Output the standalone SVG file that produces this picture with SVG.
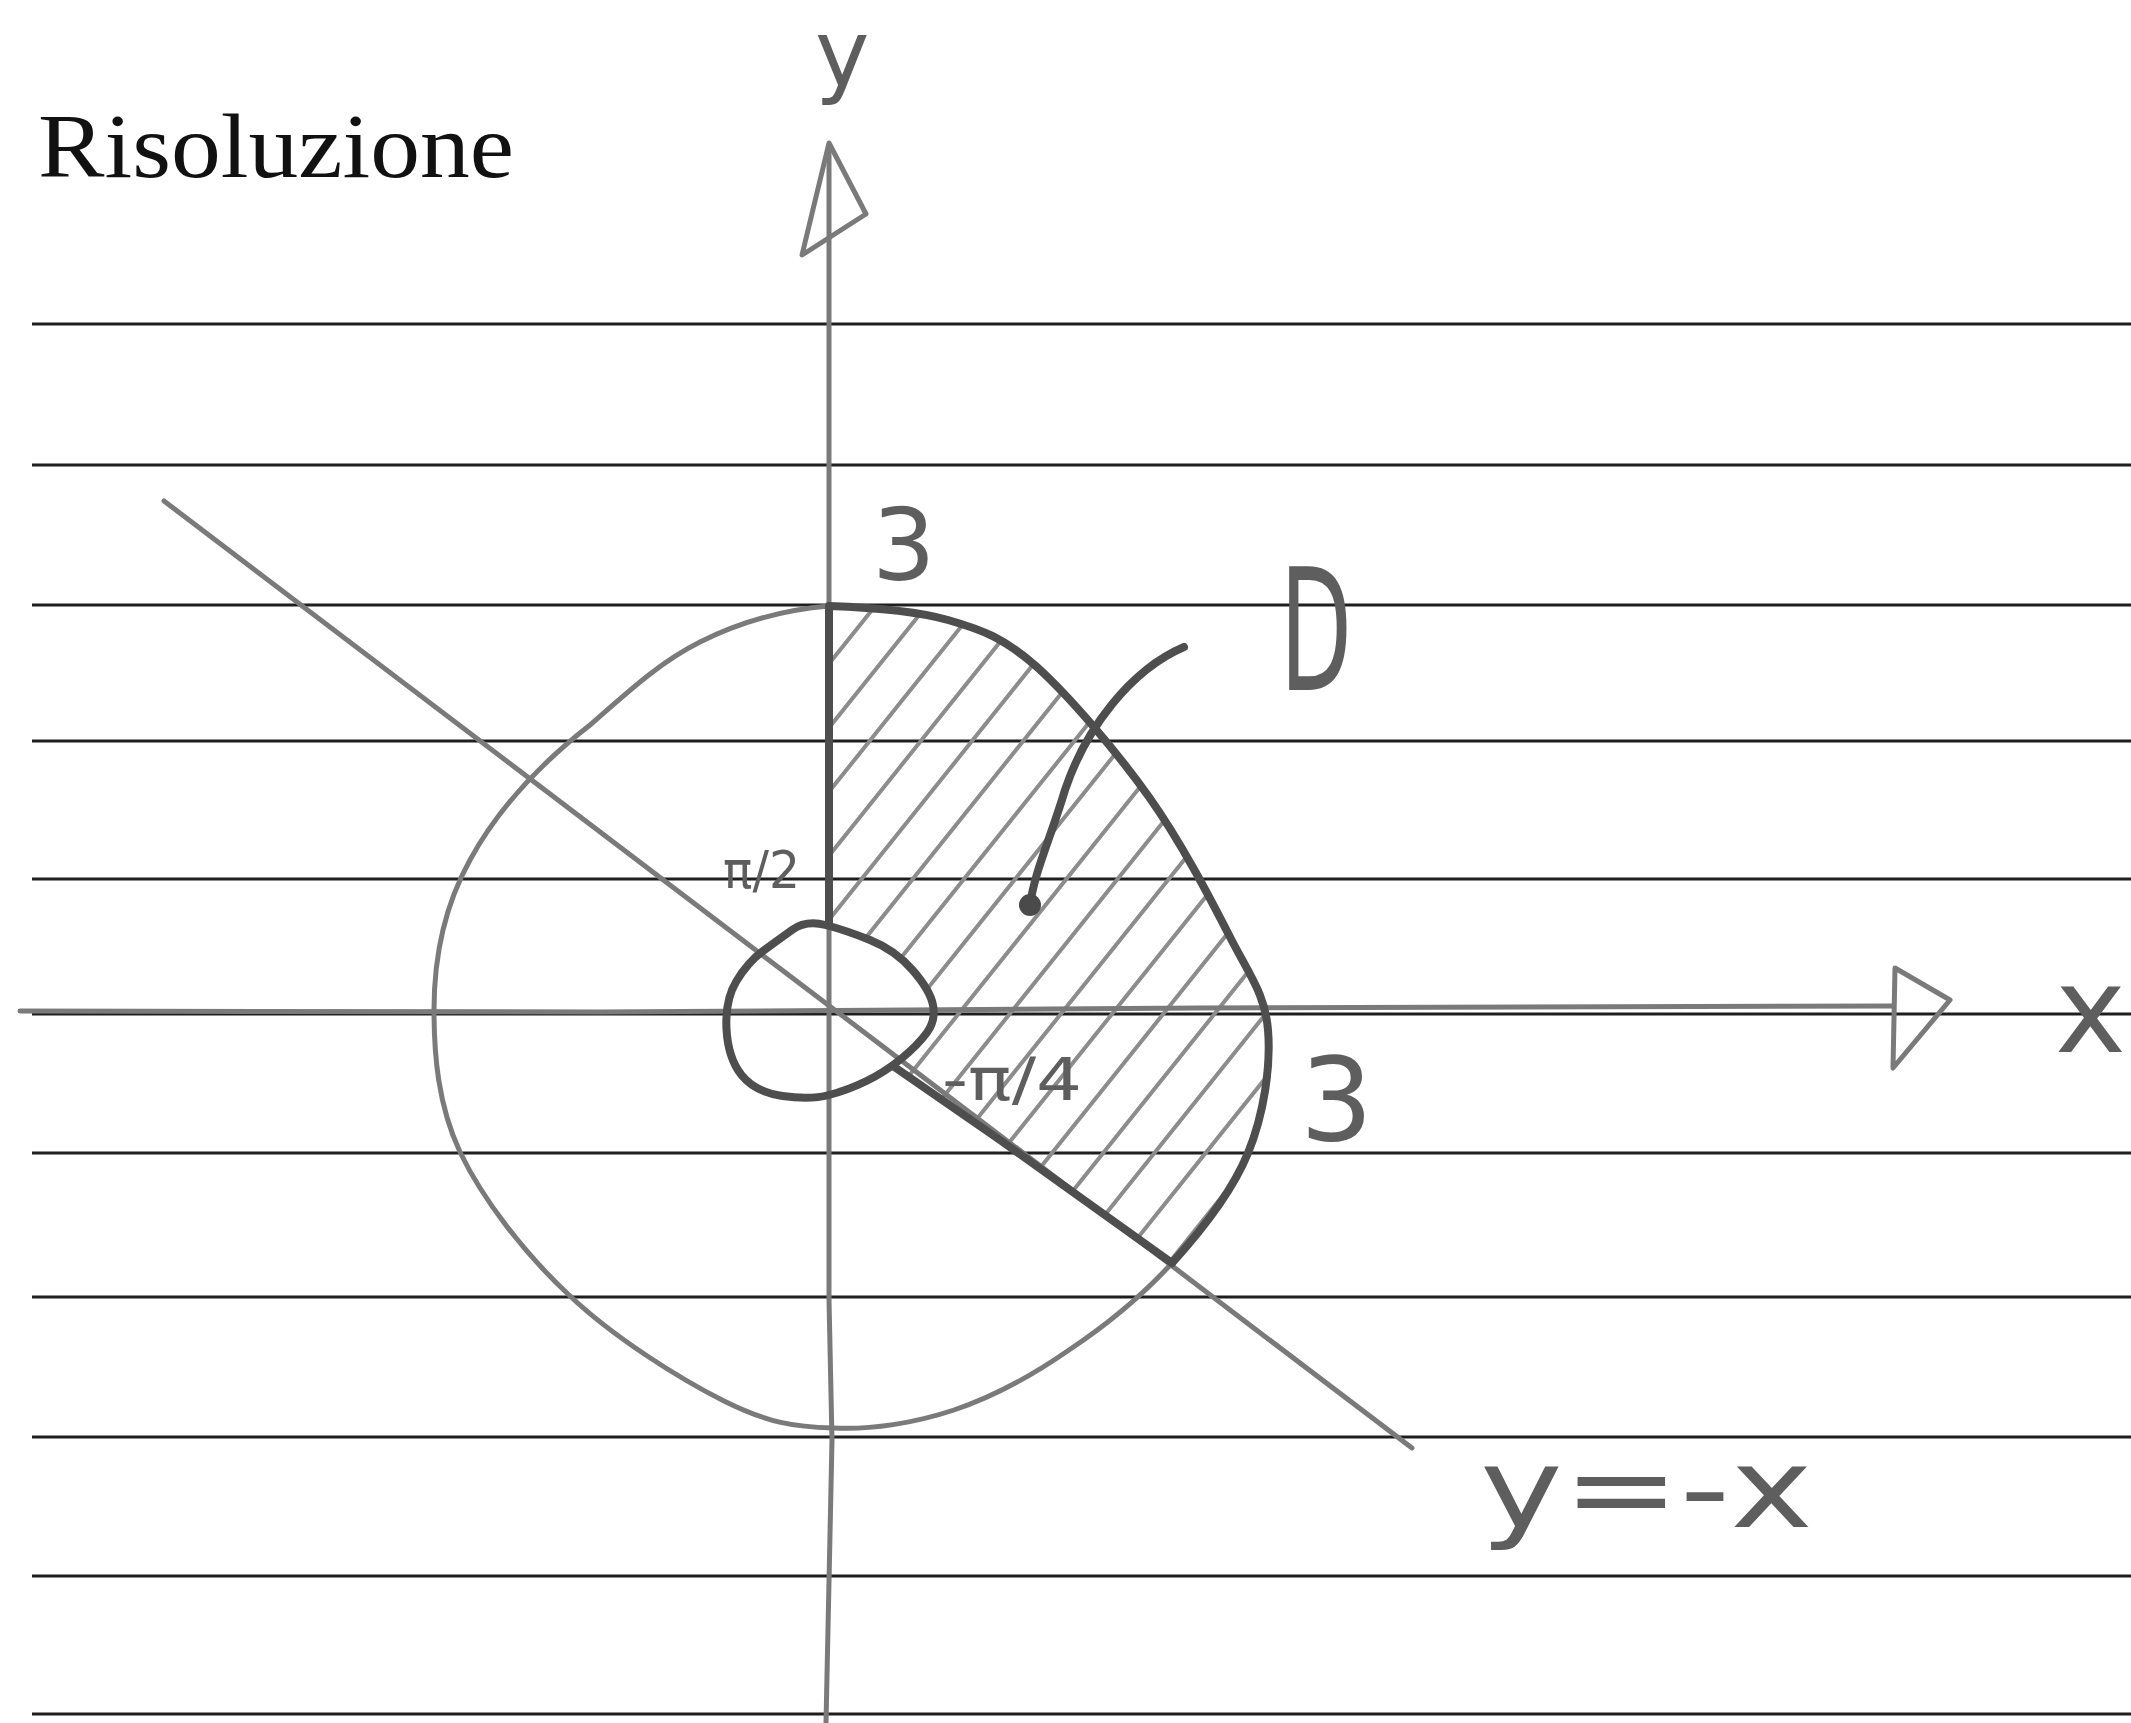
<svg xmlns="http://www.w3.org/2000/svg" width="2131" height="1723" viewBox="0 0 2131 1723">
<style>
.rule{stroke:#1e1e1e;stroke-width:3;fill:none}
.pencil{stroke:#7a7a7a;stroke-width:5;fill:none;stroke-linecap:round;stroke-linejoin:round}
.dark{stroke:#4e4e4e;stroke-width:8;fill:none;stroke-linecap:round;stroke-linejoin:round}
.hatch{stroke:#8c8c8c;stroke-width:4;fill:none;stroke-linecap:round}
.hand{font-family:"DejaVu Sans",sans-serif;fill:#5e5e5e}
.title{font-family:"Liberation Serif",serif;fill:#111}
</style>
<defs>
<clipPath id="regionClip">
<path d="M829,925 L829,606 C858,607 913,610 948,620 C983,630 1004,638 1037,667 C1070,697 1117,752 1149,797 C1181,842 1210,898 1230,937 C1250,976 1265,994 1268,1030 C1271,1066 1264,1114 1248,1153 C1232,1192 1202,1230 1172,1263 L893,1066 L918,1045 L936,1020 L930,990 L895,950 L845,930 Z"/>
</clipPath>
</defs>
<rect width="2131" height="1723" fill="#ffffff"/>
<g id="title"><text class="title" x="38" y="177" font-size="92" textLength="476" lengthAdjust="spacingAndGlyphs">Risoluzione</text></g>
<g id="ruled-lines">
<line class="rule" x1="32" y1="324" x2="2131" y2="324"/>
<line class="rule" x1="32" y1="465" x2="2131" y2="465"/>
<line class="rule" x1="32" y1="605" x2="2131" y2="605"/>
<line class="rule" x1="32" y1="741" x2="2131" y2="741"/>
<line class="rule" x1="32" y1="879" x2="2131" y2="879"/>
<line class="rule" x1="32" y1="1014" x2="2131" y2="1014"/>
<line class="rule" x1="32" y1="1153" x2="2131" y2="1153"/>
<line class="rule" x1="32" y1="1297" x2="2131" y2="1297"/>
<line class="rule" x1="32" y1="1437" x2="2131" y2="1437"/>
<line class="rule" x1="32" y1="1576" x2="2131" y2="1576"/>
<line class="rule" x1="32" y1="1714" x2="2131" y2="1714"/>
</g>
<g id="hatching" clip-path="url(#regionClip)">
<line class="hatch" x1="780" y1="725" x2="1300" y2="75"/>
<line class="hatch" x1="780" y1="789" x2="1300" y2="139"/>
<line class="hatch" x1="780" y1="853" x2="1300" y2="203"/>
<line class="hatch" x1="780" y1="917" x2="1300" y2="267"/>
<line class="hatch" x1="780" y1="981" x2="1300" y2="331"/>
<line class="hatch" x1="780" y1="1045" x2="1300" y2="395"/>
<line class="hatch" x1="780" y1="1109" x2="1300" y2="459"/>
<line class="hatch" x1="780" y1="1173" x2="1300" y2="523"/>
<line class="hatch" x1="780" y1="1237" x2="1300" y2="587"/>
<line class="hatch" x1="780" y1="1301" x2="1300" y2="651"/>
<line class="hatch" x1="780" y1="1365" x2="1300" y2="715"/>
<line class="hatch" x1="780" y1="1429" x2="1300" y2="779"/>
<line class="hatch" x1="780" y1="1493" x2="1300" y2="843"/>
<line class="hatch" x1="780" y1="1557" x2="1300" y2="907"/>
<line class="hatch" x1="780" y1="1621" x2="1300" y2="971"/>
<line class="hatch" x1="780" y1="1685" x2="1300" y2="1035"/>
<line class="hatch" x1="780" y1="1749" x2="1300" y2="1099"/>
</g>
<g id="connectors">
<g id="x-axis">
<path class="pencil" d="M20,1011 L600,1012 L1200,1008 L1893,1006" stroke-width="6"/>
<path class="pencil" d="M1895,968 L1950,1000 L1893,1068 Z"/>
</g>
<g id="y-axis">
<path class="pencil" d="M829,150 L829,608 M829,925 L829,1300 L832,1440 L826,1723" stroke-width="6"/>
<path class="pencil" d="M829,143 L802,255 L866,214 Z"/>
</g>
<g id="line-y-eq-minus-x">
<line class="pencil" x1="164" y1="501" x2="1412" y2="1448" stroke="#8a8a8a" stroke-width="4"/>
</g>
<g id="pointer">
<path class="dark" stroke-width="6" d="M1184,647 C1130,670 1085,730 1065,790 C1050,840 1035,870 1030,905"/>
<circle cx="1030" cy="905" r="11" fill="#4a4a4a"/>
</g>
</g>
<g id="big-circle">
<path class="pencil" d="M829,606 C858,607 913,610 948,620 C983,630 1004,638 1037,667 C1070,697 1117,752 1149,797 C1181,842 1210,898 1230,937 C1250,976 1265,994 1268,1030 C1271,1066 1264,1114 1248,1153 C1232,1192 1202,1230 1172,1263 C1142,1296 1105,1326 1069,1350 C1033,1375 993,1397 954,1410 C915,1423 871,1430 833,1428 C795,1427 768,1423 724,1401 C680,1379 613,1337 569,1295 C525,1254 483,1200 460,1152 C438,1105 434,1055 434,1010 C434,955 445,905 470,860 C500,805 545,760 590,725 C630,690 660,662 700,642 C740,622 780,610 829,606 Z"/>
</g>
<g id="small-circle">
<path class="dark" stroke-width="6" d="M825.5,925 Q845,930 870,940 Q895,950 912.5,970 Q930,990 933,1005 Q936,1020 927,1032.5 Q918,1045 901.5,1058.5 Q885,1072 866.5,1081 Q848,1090 829,1095 Q810,1100 782.5,1096 Q755,1092 741.5,1075 Q728,1058 726.5,1029 Q725,1000 736.5,981 Q748,962 763,951 Q778,940 792,930 Q806,920 825.5,925 Z"/>
</g>
<g id="region-D">
<path class="dark" d="M829,925 L829,608"/>
<path class="dark" d="M893,1066 L1000,1140 L1172,1263"/>
<path class="dark" stroke-width="7" d="M829,606 C858,607 913,610 948,620 C983,630 1004,638 1037,667 C1070,697 1117,752 1149,797 C1181,842 1210,898 1230,937 C1250,976 1265,994 1268,1030 C1271,1066 1264,1114 1248,1153 C1232,1192 1202,1230 1172,1263"/>
</g>
<g id="labels">
<text class="hand" x="815" y="86" font-size="92">y</text>
<text class="hand" x="2055" y="1052" font-size="120">x</text>
<text class="hand" x="872" y="580" font-size="100">3</text>
<text class="hand" x="1300" y="1140" font-size="115">3</text>
<text class="hand" x="1280" y="690" font-size="170" textLength="72" lengthAdjust="spacingAndGlyphs">D</text>
<text class="hand" x="723" y="888" font-size="52" textLength="77" lengthAdjust="spacingAndGlyphs">π/2</text>
<text class="hand" x="942" y="1100" font-size="58" textLength="140" lengthAdjust="spacingAndGlyphs">-π/4</text>
<text class="hand" x="1480" y="1527" font-size="110" textLength="333" lengthAdjust="spacingAndGlyphs">y=-x</text>
</g>
</svg>
